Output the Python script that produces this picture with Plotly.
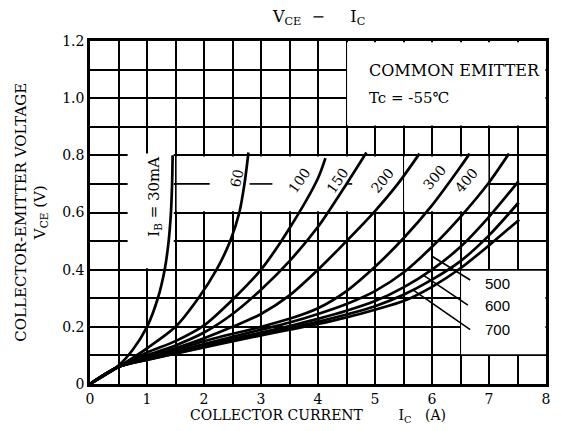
import plotly.graph_objects as go

# ---- data ----
ib_labels = ["30", "60", "100", "150", "200", "300", "400", "500", "600", "700"]

ic_30 = [0, 0.5, 0.75, 1.0, 1.19, 1.31, 1.38, 1.42, 1.44, 1.45]
vce_30 = [0, 0.065, 0.12, 0.20, 0.30, 0.40, 0.50, 0.60, 0.70, 0.80]

ic_60 = [0, 0.5, 1.0, 1.5, 1.9, 2.22, 2.46, 2.62, 2.71, 2.78]
vce_60 = [0, 0.06, 0.125, 0.2, 0.3, 0.4, 0.5, 0.6, 0.7, 0.81]

ic_100 = [0, 0.5, 1.0, 1.5, 2.0, 2.5, 3.0, 3.5, 4.0, 4.13]
vce_100 = [0, 0.06, 0.11, 0.15, 0.205, 0.295, 0.4, 0.545, 0.72, 0.79]

ic_150 = [0, 0.5, 1.0, 1.5, 2.0, 2.5, 3.0, 3.5, 4.0, 4.5, 4.85]
vce_150 = [0, 0.06, 0.1, 0.135, 0.18, 0.245, 0.33, 0.43, 0.55, 0.7, 0.81]

ic_200 = [0, 0.5, 1.0, 1.5, 2.0, 2.5, 3.0, 3.5, 4.0, 4.5, 5.0, 5.4, 5.78]
vce_200 = [0, 0.06, 0.095, 0.125, 0.16, 0.2, 0.245, 0.31, 0.4, 0.5, 0.605, 0.7, 0.806]

ic_300 = [0, 0.5, 1.0, 2.0, 3.0, 3.5, 4.0, 4.5, 5.0, 5.5, 6.0, 6.5, 6.66]
vce_300 = [0, 0.06, 0.09, 0.15, 0.2, 0.228, 0.265, 0.325, 0.41, 0.51, 0.625, 0.76, 0.806]

ic_400 = [0, 0.5, 1.0, 2.0, 3.0, 3.5, 4.0, 4.5, 5.0, 5.5, 6.0, 6.5, 7.0, 7.35]
vce_400 = [0, 0.06, 0.088, 0.14, 0.19, 0.215, 0.245, 0.28, 0.325, 0.39, 0.48, 0.585, 0.705, 0.806]

ic_500 = [0, 0.5, 1.0, 2.0, 3.0, 3.5, 4.0, 4.5, 5.0, 5.5, 6.0, 6.5, 7.0, 7.52]
vce_500 = [0, 0.06, 0.086, 0.135, 0.18, 0.203, 0.228, 0.256, 0.29, 0.338, 0.4, 0.48, 0.585, 0.71]

ic_600 = [0, 0.5, 1.0, 2.0, 3.0, 3.5, 4.0, 4.5, 5.0, 5.5, 6.0, 6.5, 7.0, 7.52]
vce_600 = [0, 0.06, 0.085, 0.13, 0.175, 0.196, 0.218, 0.243, 0.272, 0.312, 0.365, 0.43, 0.52, 0.635]

ic_700 = [0, 0.5, 1.0, 2.0, 3.0, 3.5, 4.0, 4.5, 5.0, 5.5, 6.0, 6.5, 7.0, 7.53]
vce_700 = [0, 0.06, 0.084, 0.128, 0.17, 0.19, 0.21, 0.233, 0.26, 0.29, 0.34, 0.405, 0.485, 0.575]

series_ic = [ic_30, ic_60, ic_100, ic_150, ic_200, ic_300, ic_400, ic_500, ic_600, ic_700]
series_vce = [vce_30, vce_60, vce_100, vce_150, vce_200, vce_300, vce_400, vce_500, vce_600, vce_700]

x_tick_vals = [0, 1, 2, 3, 4, 5, 6, 7, 8]
x_tick_text = ["0", "1", "2", "3", "4", "5", "6", "7", "8"]
y_tick_vals = [0, 0.2, 0.4, 0.6, 0.8, 1.0, 1.2]
y_tick_text = ["0", "0.2", "0.4", "0.6", "0.8", "1.0", "1.2"]

# leader lines for 500/600/700 labels
leader_x = [[6.0, 6.67], [5.84, 6.63], [5.66, 6.67]]
leader_y = [[0.447, 0.364], [0.382, 0.276], [0.33, 0.19]]

FONT = "DejaVu Serif"
NB = "\u00a0"

fig = go.Figure()

for xs, ys, lab in zip(series_ic, series_vce, ib_labels):
    fig.add_trace(go.Scatter(
        x=xs, y=ys, mode="lines", name=lab,
        line=dict(color="black", width=2.7, shape="spline", smoothing=0.8),
        showlegend=False, hoverinfo="skip"))

for lx, ly in zip(leader_x, leader_y):
    fig.add_trace(go.Scatter(x=lx, y=ly, mode="lines",
                             line=dict(color="black", width=1.6),
                             showlegend=False, hoverinfo="skip"))

# white masks hiding grid behind labels (between grid and traces)
masks = [
    (4.51, 7.99, 0.904, 1.196),
    (0.66, 1.47, 0.405, 0.806),
    (1.52, 5.49, 0.604, 0.796),
    (5.51, 6.99, 0.604, 0.796),
    (6.51, 7.99, 0.104, 0.396),
]
shapes = []
for x0, x1, y0, y1 in masks:
    shapes.append(dict(type="rect", xref="x", yref="y", x0=x0, x1=x1, y0=y0, y1=y1,
                       fillcolor="white", line=dict(width=0), layer="between"))
# grid stubs on the 0.7 line inside the masked band
for x0, x1 in [(1.5, 2.1), (2.8, 3.2), (4.5, 4.6)]:
    shapes.append(dict(type="line", xref="x", yref="y", x0=x0, x1=x1, y0=0.7, y1=0.7,
                       line=dict(color="black", width=1.6), layer="between"))

def tf(size, family=FONT):
    return dict(family=family, size=size, color="black")

annotations = [
    dict(xref="paper", yref="paper", x=0.5, y=1.0 + 24.0 / 343.0, yanchor="middle",
         text="V<sub>CE</sub>" + NB * 2 + "\u2212" + NB * 5 + "I<sub>C</sub>",
         showarrow=False, font=tf(16)),
    dict(x=6.4, y=1.098, text="COMMON EMITTER", showarrow=False, font=tf(16)),
    dict(x=4.86, y=1.0, text="Tc" + NB + "=" + NB + "-55℃", showarrow=False,
         xanchor="left", font=tf(15)),
    dict(x=1.14, y=0.655, text="I<sub>B</sub>" + NB + "=" + NB + "30mA", showarrow=False,
         textangle=-90, font=tf(15)),
    dict(x=2.58, y=0.72, text="60", showarrow=False, textangle=-78, font=tf(14)),
    dict(x=3.68, y=0.713, text="100", showarrow=False, textangle=-55, font=tf(14)),
    dict(x=4.35, y=0.713, text="150", showarrow=False, textangle=-55, font=tf(14)),
    dict(x=5.14, y=0.713, text="200", showarrow=False, textangle=-50, font=tf(14)),
    dict(x=6.05, y=0.724, text="300", showarrow=False, textangle=-50, font=tf(14)),
    dict(x=6.61, y=0.713, text="400", showarrow=False, textangle=-50, font=tf(14)),
    dict(x=6.9, y=0.35, text="500", showarrow=False, xanchor="left",
         font=tf(15, "Liberation Sans")),
    dict(x=6.9, y=0.273, text="600", showarrow=False, xanchor="left",
         font=tf(15, "Liberation Sans")),
    dict(x=6.9, y=0.189, text="700", showarrow=False, xanchor="left",
         font=tf(15, "Liberation Sans")),
    dict(xref="paper", yref="paper", x=-0.129, y=0.5, xanchor="center", yanchor="middle",
         text="COLLECTOR-EMITTER" + NB + "VOLTAGE<br>V<sub>CE</sub>" + NB + "(V)",
         showarrow=False, textangle=-90, font=tf(15)),
]

fig.update_layout(
    width=553, height=423,
    margin=dict(l=82, r=15, t=33, b=47),
    paper_bgcolor="white", plot_bgcolor="white",
    shapes=shapes, annotations=annotations,
    xaxis=dict(range=[0, 8], tickvals=x_tick_vals, ticktext=x_tick_text,
               showgrid=True, gridcolor="black", gridwidth=1.6,
               minor=dict(dtick=0.5, showgrid=True, gridcolor="black", gridwidth=1.6),
               showline=True, linecolor="black", linewidth=2.6, mirror=True,
               zeroline=False, ticks="", tickfont=tf(14),
               title=dict(text="COLLECTOR" + NB + "CURRENT" + NB * 8 + "I<sub>C</sub>" + NB * 3 + "(A)",
                          standoff=2, font=tf(14))),
    yaxis=dict(range=[0, 1.2], tickvals=y_tick_vals, ticktext=y_tick_text,
               showgrid=True, gridcolor="black", gridwidth=1.6,
               minor=dict(dtick=0.1, showgrid=True, gridcolor="black", gridwidth=1.6),
               showline=True, linecolor="black", linewidth=2.6, mirror=True,
               zeroline=False, ticks="", tickfont=tf(14)),
)

fig.write_html("out.html")
